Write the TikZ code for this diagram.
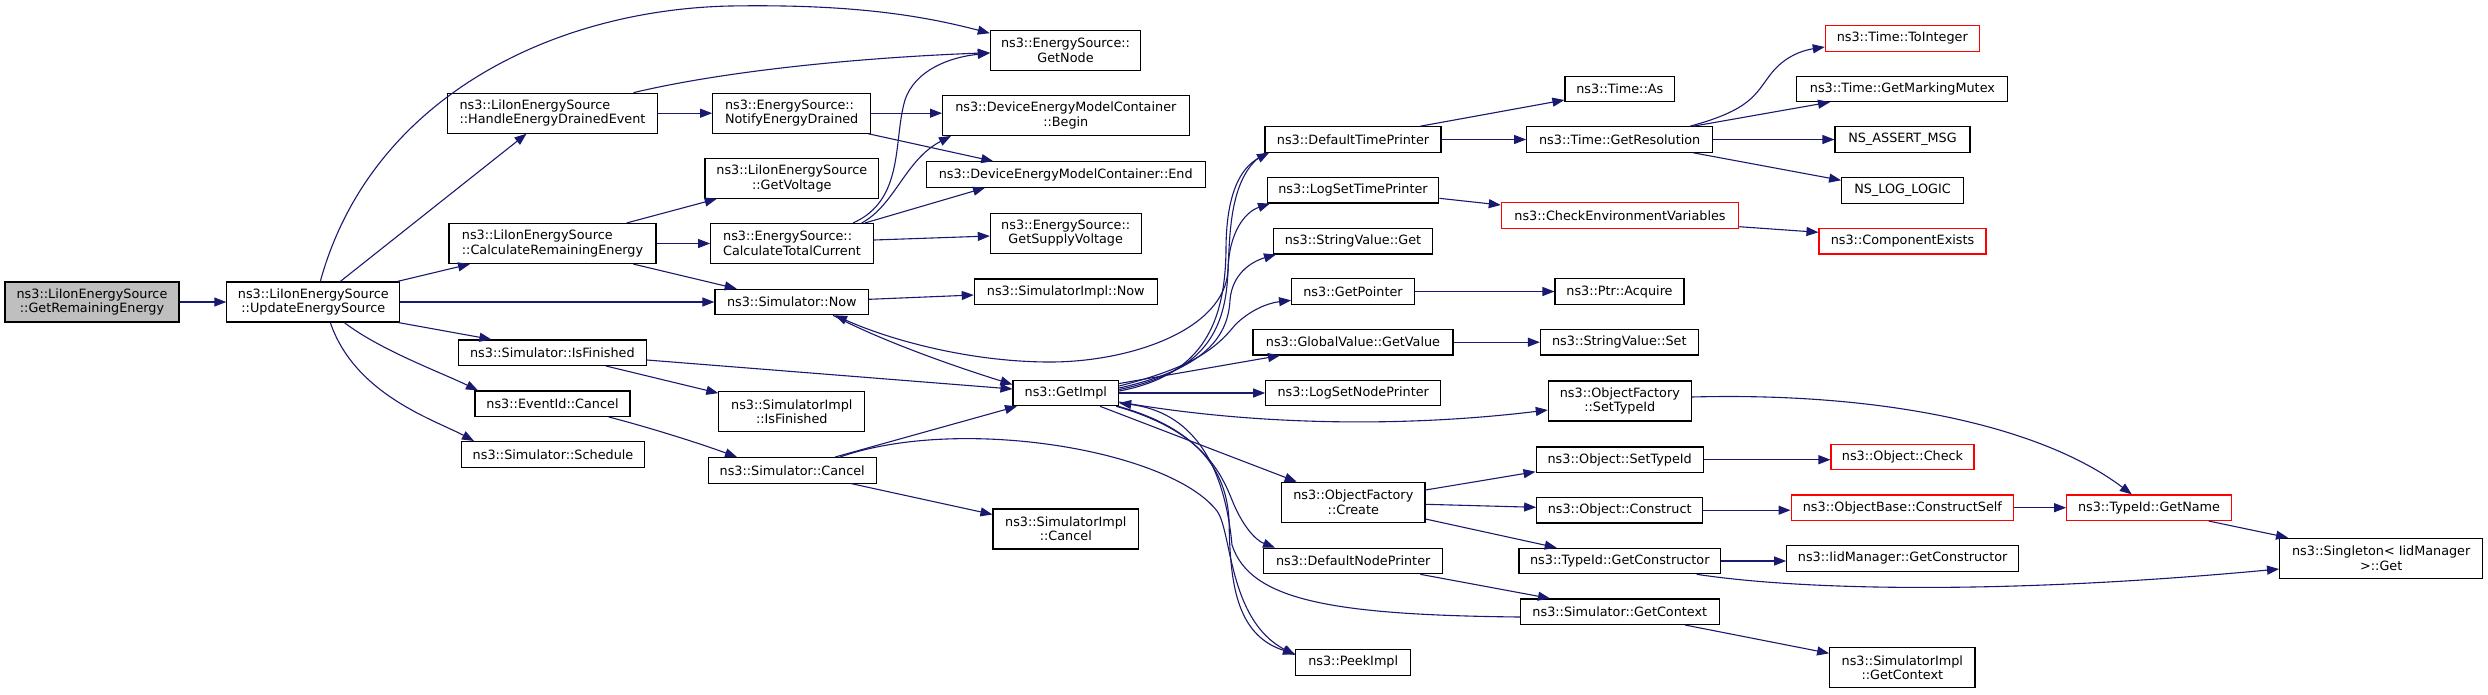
\documentclass[tikz,border=0pt]{standalone}
\usepackage{fontspec}
\setmainfont{DejaVu Sans}
\usetikzlibrary{arrows.meta}
\definecolor{edgeblue}{RGB}{25,25,112}
\definecolor{rootfill}{RGB}{191,191,191}
\definecolor{truncred}{RGB}{255,0,0}
\begin{document}
\begin{tikzpicture}[x=1pt,y=-1pt,
  fn/.style={draw=black, line width=1.1pt, fill=white, inner sep=0pt,
    font=\fontsize{12.8}{14.4}\selectfont, minimum height=25.5pt, align=center},
  fn2/.style={fn, minimum height=40pt},
  rootnode/.style={fill=rootfill},
  truncnode/.style={draw=truncred},
  lefttext/.style={align=left},
  callarrow/.style={draw=edgeblue, line width=1.1pt, -{Triangle[length=12pt,width=9pt]}}]
\fill[white] (0,0) rectangle (2488,694);
\useasboundingbox (0,0) rectangle (2488,694);

% column 1-2
\node[fn2, rootnode, minimum width=174pt] (n1) at (92,302) {ns3::LiIonEnergySource\\::GetRemainingEnergy};
\node[fn2, minimum width=173pt] (n2) at (313.3,302) {ns3::LiIonEnergySource\\::UpdateEnergySource};
% column 3
\node[fn2, lefttext, minimum width=209.5pt] (n3) at (552.5,113.2) {ns3::LiIonEnergySource\\::HandleEnergyDrainedEvent};
\node[fn2, lefttext, minimum width=207pt] (n6) at (552.5,243.5) {ns3::LiIonEnergySource\\::CalculateRemainingEnergy};
\node[fn, minimum width=188pt] (n9) at (552.4,352.7) {ns3::Simulator::IsFinished};
\node[fn, minimum width=155pt] (n10) at (552.5,403.7) {ns3::EventId::Cancel};
\node[fn, minimum width=182.7pt] (n11) at (553,454.3) {ns3::Simulator::Schedule};
% column 4
\node[fn2, lefttext, minimum width=158pt] (n4) at (791.7,113.2) {ns3::EnergySource::\\NotifyEnergyDrained};
\node[fn2, minimum width=173.7pt] (n5) at (791.8,178.3) {ns3::LiIonEnergySource\\::GetVoltage};
\node[fn2, lefttext, minimum width=162.6pt] (n7) at (792,243.5) {ns3::EnergySource::\\CalculateTotalCurrent};
\node[fn, minimum width=153.7pt] (n8) at (791.8,302) {ns3::Simulator::Now};
\node[fn2, minimum width=145.8pt] (n12) at (791.8,411.7) {ns3::SimulatorImpl\\::IsFinished};
\node[fn, minimum width=167.7pt] (n13) at (792.2,470.3) {ns3::Simulator::Cancel};
% column 5
\node[fn2, minimum width=150.3pt] (n14) at (1065.5,50.2) {ns3::EnergySource::\\GetNode};
\node[fn2, minimum width=246.5pt] (n15) at (1065.8,115.4) {ns3::DeviceEnergyModelContainer\\::Begin};
\node[fn, minimum width=278.7pt] (n16) at (1065.7,174.5) {ns3::DeviceEnergyModelContainer::End};
\node[fn2, minimum width=150.7pt] (n17) at (1065.7,233.2) {ns3::EnergySource::\\GetSupplyVoltage};
\node[fn, minimum width=183pt] (n18) at (1065.8,291.7) {ns3::SimulatorImpl::Now};
\node[fn, minimum width=105.7pt] (n34) at (1065.8,393) {ns3::GetImpl};
\node[fn2, minimum width=145.6pt] (n38) at (1065.8,529) {ns3::SimulatorImpl\\::Cancel};
% column 6
\node[fn, minimum width=176pt] (n19) at (1353,139.5) {ns3::DefaultTimePrinter};
\node[fn, minimum width=171.5pt] (n20) at (1353,190.2) {ns3::LogSetTimePrinter};
\node[fn, minimum width=158.8pt] (n21) at (1353,241.2) {ns3::StringValue::Get};
\node[fn, minimum width=122.8pt] (n22) at (1353,291.5) {ns3::GetPointer};
\node[fn, minimum width=200pt] (n23) at (1353,342.2) {ns3::GlobalValue::GetValue};
\node[fn, minimum width=175pt] (n35) at (1353.2,393) {ns3::LogSetNodePrinter};
\node[fn2, minimum width=143.3pt] (n37) at (1353.3,502.3) {ns3::ObjectFactory\\::Create};
\node[fn, minimum width=179pt] (n39) at (1353.2,561) {ns3::DefaultNodePrinter};
\node[fn, minimum width=115pt] (n40) at (1353.2,662.3) {ns3::PeekImpl};
% column 7
\node[fn, minimum width=109.7pt] (n24) at (1619.8,88.8) {ns3::Time::As};
\node[fn, minimum width=186pt] (n25) at (1619.7,139.5) {ns3::Time::GetResolution};
\node[fn, truncnode, minimum width=237.4pt] (n26) at (1620,215.5) {ns3::CheckEnvironmentVariables};
\node[fn, minimum width=129pt] (n27) at (1619.5,291.5) {ns3::Ptr::Acquire};
\node[fn, minimum width=157.8pt] (n28) at (1619.3,342.2) {ns3::StringValue::Set};
\node[fn2, minimum width=143pt] (n36) at (1619.8,401) {ns3::ObjectFactory\\::SetTypeId};
\node[fn, minimum width=167.3pt] (n41) at (1619.7,459.7) {ns3::Object::SetTypeId};
\node[fn, minimum width=166pt] (n42) at (1619.7,510.2) {ns3::Object::Construct};
\node[fn, minimum width=201.7pt] (n43) at (1619.8,561) {ns3::TypeId::GetConstructor};
\node[fn, minimum width=199pt] (n44) at (1619.8,611.7) {ns3::Simulator::GetContext};
% column 8
\node[fn, truncnode, minimum width=154pt] (n29) at (1902.3,38.3) {ns3::Time::ToInteger};
\node[fn, minimum width=211pt] (n30) at (1902.4,88.8) {ns3::Time::GetMarkingMutex};
\node[fn, minimum width=135pt] (n31) at (1902.5,139.5) {NS\_ASSERT\_MSG};
\node[fn, minimum width=121.7pt] (n32) at (1902.5,190.3) {NS\_LOG\_LOGIC};
\node[fn, truncnode, minimum width=167pt] (n33) at (1902.5,241.2) {ns3::ComponentExists};
\node[fn, truncnode, minimum width=143pt] (n45) at (1902.5,457) {ns3::Object::Check};
\node[fn, truncnode, minimum width=222.7pt] (n46) at (1902.4,507.7) {ns3::ObjectBase::ConstructSelf};
\node[fn, minimum width=231.8pt] (n48) at (1902.6,558.3) {ns3::IidManager::GetConstructor};
\node[fn2, minimum width=145.3pt] (n50) at (1902.3,667.7) {ns3::SimulatorImpl\\::GetContext};
% columns 9-10
\node[fn, truncnode, minimum width=164.6pt] (n47) at (2149,507.7) {ns3::TypeId::GetName};
\node[fn2, minimum width=203.3pt] (n49) at (2381.2,558.2) {ns3::Singleton< IidManager\\>::Get};

% edges
\draw[callarrow] (n1.east) -- (n2.west);
\draw[callarrow] ([shift={(7,0)}]n2.north) .. controls (370,100) and (550,10) .. (730,6) .. controls (850,4) and (920,15) .. ([shift={(0,-17)}]n14.west);
\draw[callarrow] ([shift={(27,0)}]n2.north) -- ([shift={(-26,0)}]n3.south);
\draw[callarrow] ([shift={(84,0)}]n2.north) -- ([shift={(-82.5,0)}]n6.south);
\draw[callarrow] (n2.east) -- (n8.west);
\draw[callarrow] ([shift={(85,0)}]n2.south) -- ([shift={(-61,0)}]n9.north);
\draw[callarrow] ([shift={(31,0)}]n2.south) .. controls (380,350) and (440,372) .. ([shift={(-74.5,0)}]n10.north);
\draw[callarrow] ([shift={(17,0)}]n2.south) .. controls (355,395) and (435,420) .. ([shift={(-79,0)}]n11.north);
\draw[callarrow] (n3.east) -- (n4.west);
\draw[callarrow] ([shift={(81,0)}]n3.north) .. controls (720,72) and (850,58) .. ([shift={(0,2.5)}]n14.west);
\draw[callarrow] (n4.east) -- (n4.east -| n15.west);
\draw[callarrow] ([shift={(76.6,0)}]n4.south) -- ([shift={(-72.4,0)}]n16.north);
\draw[callarrow] ([shift={(74.2,0)}]n6.north) -- ([shift={(-75.1,0)}]n5.south);
\draw[callarrow] (n6.east) -- (n6.east -| n7.west);
\draw[callarrow] ([shift={(80.8,0)}]n6.south) -- ([shift={(-55.1,0)}]n8.north);
\draw[callarrow] ([shift={(61,0)}]n7.north) .. controls (905,200) and (893,140) .. (905,100) .. controls (915,70) and (950,57) .. ([shift={(0,3)}]n14.west);
\draw[callarrow] ([shift={(69.7,0)}]n7.north) .. controls (895,205) and (905,160) .. ([shift={(-114.8,0)}]n15.south);
\draw[callarrow] ([shift={(73,0)}]n7.north) -- ([shift={(-80.7,0)}]n16.south);
\draw[callarrow] ([shift={(0,-3.5)}]n7.east) -- ([shift={(0,2.8)}]n17.west);
\draw[callarrow] ([shift={(0,-2.7)}]n8.east) -- ([shift={(0,3.3)}]n18.west);
\draw[callarrow] ([shift={(41.2,0)}]n8.south) .. controls (880,340) and (950,365) .. ([shift={(0,-8.5)}]n34.west);
\draw[callarrow] ([shift={(-88,0)}]n19.south) .. controls (1230,175) and (1230,230) .. (1228,270) .. controls (1225,330) and (1130,362) .. (1050,362) .. controls (970,362) and (890,340) .. ([shift={(43.2,0)}]n8.south);
\draw[callarrow] ([shift={(0,-2)}]n34.east) .. controls (1205,375) and (1225,320) .. (1226,250) .. controls (1226,195) and (1240,168) .. ([shift={(-84,0)}]n19.south);
\draw[callarrow] ([shift={(0,-3.5)}]n34.east) .. controls (1205,372) and (1226,330) .. (1228,270) .. controls (1229,232) and (1245,212) .. ([shift={(-83,0)}]n20.south);
\draw[callarrow] ([shift={(0,-5)}]n34.east) .. controls (1200,370) and (1228,340) .. (1230,300) .. controls (1232,275) and (1250,262) .. ([shift={(-77,0)}]n21.south);
\draw[callarrow] ([shift={(0,-7)}]n34.east) .. controls (1190,368) and (1215,350) .. (1235,325) .. controls (1250,310) and (1268,303) .. ([shift={(0,8.8)}]n22.west);
\draw[callarrow] ([shift={(0,-9.5)}]n34.east) -- ([shift={(-73,0)}]n23.south);
\draw[callarrow] (n34.east) -- (n34.east -| n35.west);
\draw[callarrow] ([shift={(0,9)}]n34.east) .. controls (1250,425) and (1400,428) .. ([shift={(0,9)}]n36.west);
\draw[callarrow] ([shift={(34.2,0)}]n34.south) -- ([shift={(-56.6,0)}]n37.north);
\draw[callarrow] ([shift={(-3,0)}]n34.south east) .. controls (1200,430) and (1220,470) .. (1232,500) .. controls (1242,525) and (1255,540) .. ([shift={(-78.2,0)}]n39.north);
\draw[callarrow] ([shift={(-1,0)}]n34.south east) .. controls (1185,425) and (1226,460) .. (1229,520) .. controls (1230,580) and (1235,635) .. ([shift={(0,-8.3)}]n40.west);
\draw[callarrow] ([shift={(0,5.3)}]n44.west) .. controls (1330,615) and (1250,600) .. (1232,545) .. controls (1224,460) and (1190,412) .. ([shift={(0,10)}]n34.east);
\draw[callarrow] ([shift={(47.8,0)}]n13.north) .. controls (960,415) and (1170,450) .. (1217,511) .. controls (1232,531) and (1228,620) .. ([shift={(0,-7.3)}]n40.west);
\draw[callarrow] ([shift={(43,0)}]n13.north) -- ([shift={(-48.8,0)}]n34.south);
\draw[callarrow] ([shift={(59,0)}]n13.south) -- ([shift={(0,6)}]n38.north west);
\draw[callarrow] ([shift={(0,7.3)}]n9.east) -- ([shift={(0,-4)}]n34.west);
\draw[callarrow] ([shift={(53.6,0)}]n9.south) -- ([shift={(0,2)}]n12.north west);
\draw[callarrow] ([shift={(56.3,0)}]n10.south) .. controls (640,425) and (690,440) .. ([shift={(-55.2,0)}]n13.north);
\draw[callarrow] ([shift={(67.3,0)}]n19.north) -- ([shift={(0,11.2)}]n24.west);
\draw[callarrow] (n19.east) -- (n19.east -| n25.west);
\draw[callarrow] ([shift={(70.3,0)}]n25.north) .. controls (1750,110) and (1755,95) .. (1770,75) .. controls (1785,55) and (1805,50) .. ([shift={(0,8.7)}]n29.west);
\draw[callarrow] ([shift={(73.6,0)}]n25.north) -- ([shift={(-72.4,0)}]n30.south);
\draw[callarrow] (n25.east) -- (n25.east -| n31.west);
\draw[callarrow] ([shift={(73.6,0)}]n25.south) -- ([shift={(0,-10)}]n32.west);
\draw[callarrow] ([shift={(0,8.1)}]n20.east) -- ([shift={(0,-10.5)}]n26.west);
\draw[callarrow] ([shift={(0,11.2)}]n26.east) -- ([shift={(0,-8.9)}]n33.west);
\draw[callarrow] (n22.east) -- (n22.east -| n27.west);
\draw[callarrow] (n23.east) -- (n23.east -| n28.west);
\draw[callarrow] ([shift={(0,-4)}]n36.east) .. controls (1880,392) and (2040,425) .. ([shift={(-17.2,0)}]n47.north);
\draw[callarrow] ([shift={(0,-12.3)}]n37.east) -- ([shift={(0,12)}]n41.west);
\draw[callarrow] ([shift={(0,2)}]n37.east) -- ([shift={(0,-2.9)}]n42.west);
\draw[callarrow] ([shift={(0,16.7)}]n37.east) -- ([shift={(-63.1,0)}]n43.north);
\draw[callarrow] ([shift={(67.1,0)}]n39.south) -- ([shift={(-69.8,0)}]n44.north);
\draw[callarrow] (n41.east) -- (n41.east -| n45.west);
\draw[callarrow] (n42.east) -- (n42.east -| n46.west);
\draw[callarrow] (n46.east) -- (n47.west);
\draw[callarrow] ([shift={(59.6,0)}]n47.south) -- ([shift={(-93.2,0)}]n49.north);
\draw[callarrow] (n43.east) -- (n43.east -| n48.west);
\draw[callarrow] ([shift={(76.9,0)}]n43.south) .. controls (1800,590) and (2000,595) .. ([shift={(0,10.8)}]n49.west);
\draw[callarrow] ([shift={(65.2,0)}]n44.south) -- ([shift={(0,-14.4)}]n50.west);
\end{tikzpicture}
\end{document}
